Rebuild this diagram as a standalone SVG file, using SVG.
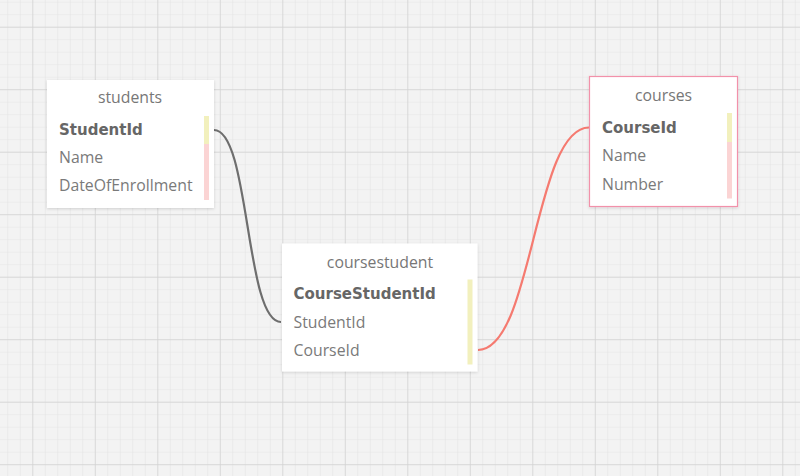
<svg xmlns="http://www.w3.org/2000/svg" width="800" height="476" viewBox="0 0 800 476">
<defs>
<pattern id="minor" x="32.3" y="26.7" width="12.5" height="12.5" patternUnits="userSpaceOnUse">
<path d="M0,0 V12.5 M0,0 H12.5" stroke="#e4e4e4" stroke-width="1.2" fill="none"/>
</pattern>
<pattern id="major" x="32.3" y="26.7" width="62.5" height="62.5" patternUnits="userSpaceOnUse">
<path d="M0,0 V62.5 M0,0 H62.5" stroke="#d2d2d2" stroke-width="1.3" fill="none"/>
</pattern>
<filter id="sh" x="-10%" y="-10%" width="120%" height="120%">
<feDropShadow dx="0" dy="1" stdDeviation="1.5" flood-color="#000" flood-opacity="0.15"/>
</filter>
</defs>
<style>
.box{fill:#fff;filter:url(#sh)}
.title{font-family:"Open Sans","Liberation Sans",sans-serif;font-size:15.8px;fill:#777;text-anchor:middle}
.f{font-family:"Open Sans","Liberation Sans",sans-serif;font-size:15.8px;fill:#7a7a7a}
.pk{font-family:"DejaVu Sans","Liberation Sans",sans-serif;font-size:15px;font-weight:bold;fill:#666}
.y{fill:#f2f0bd}
.p{fill:#fbd4d4}
.conn{fill:none;stroke-width:2.2}
</style>
<rect width="800" height="476" fill="#f3f3f3"/>
<rect width="800" height="476" fill="url(#minor)"/>
<rect width="800" height="476" fill="url(#major)"/>
<g id="connectors">
<path class="conn" stroke="#6e6e6e" d="M214,130 C250,130 245,322 281,322"/>
<path class="conn" stroke="#f57a70" d="M478,350 C533,350 534,127.5 589,127.5"/>
</g>
<g id="students">
<rect class="box" x="47" y="80" width="167" height="128"/>
<text class="title" x="130" y="102.5">students</text>
<text class="pk" x="59" y="134.5">StudentId</text>
<text class="f" x="59" y="163">Name</text>
<text class="f" x="59" y="191">DateOfEnrollment</text>
<rect class="y" x="204" y="116" width="5" height="28"/>
<rect class="p" x="204" y="144" width="5" height="56"/>
</g>
<g id="coursestudent">
<rect class="box" x="282" y="243.5" width="195.5" height="128"/>
<text class="title" x="380" y="267.5">coursestudent</text>
<text class="pk" x="293.5" y="299">CourseStudentId</text>
<text class="f" x="293.5" y="328">StudentId</text>
<text class="f" x="293.5" y="356">CourseId</text>
<rect class="y" x="467.5" y="279.5" width="5" height="85"/>
</g>
<g id="courses">
<rect class="box" x="589.5" y="76.5" width="148" height="130" stroke="#f291aa" stroke-width="1.2"/>
<text class="title" x="663.5" y="101">courses</text>
<text class="pk" x="602" y="133">CourseId</text>
<text class="f" x="602" y="161">Name</text>
<text class="f" x="602" y="189.5">Number</text>
<rect class="y" x="727" y="113" width="5" height="29"/>
<rect class="p" x="727" y="142" width="5" height="56.5"/>
</g>
</svg>
